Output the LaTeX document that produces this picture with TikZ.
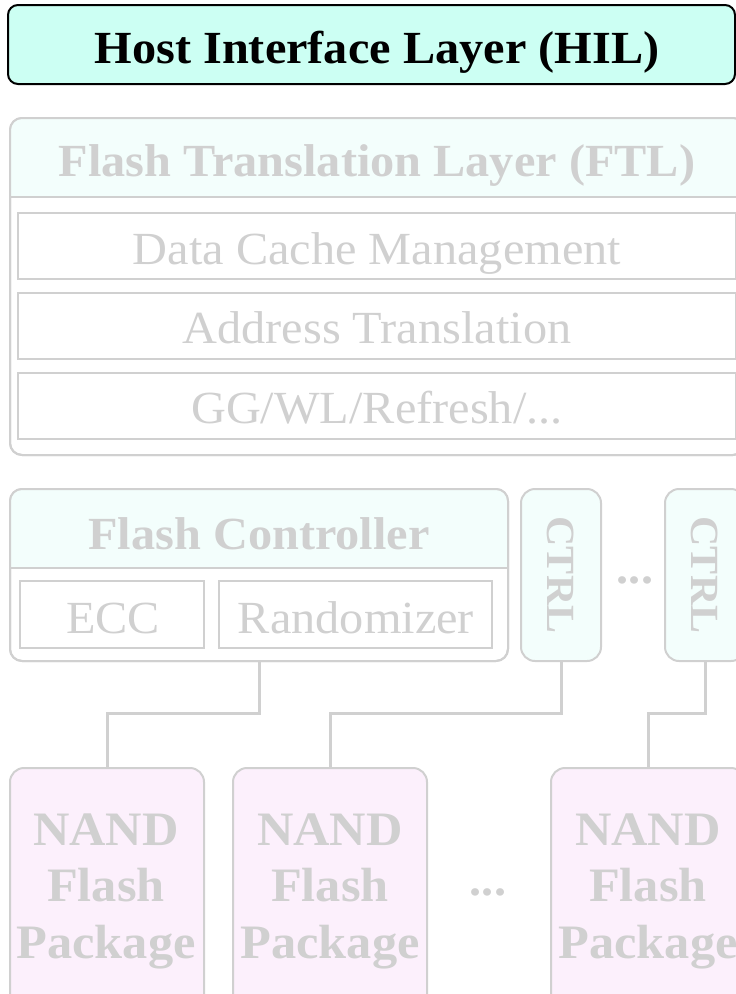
\documentclass[tikz,border=0pt]{standalone}
\usepackage{fontspec}
\setmainfont[FakeStretch=1.05]{Liberation Serif}
\begin{document}
\begin{tikzpicture}[x=1pt,y=-1pt,
  every node/.style={inner sep=0pt, outer sep=0pt},
  txt/.style={text=lgray, anchor=base},
  hilbox/.style={draw=black, line width=2pt, fill=hilfill, rounded corners=10pt},
  graybox/.style={draw=lgray, line width=2pt, rounded corners=12pt},
  plainbox/.style={draw=lgray, line width=2pt, fill=white},
  nandbox/.style={draw=lgray, line width=2pt, fill=nandfill, rounded corners=14pt},
  ctrlbox/.style={draw=lgray, line width=2pt, fill=cyanfill, rounded corners=14pt},
  wire/.style={draw=lgray, line width=3pt},
  big/.style={font=\fontsize{46}{54}\selectfont},
  bigb/.style={font=\fontsize{46}{54}\selectfont\bfseries},
  nandtxt/.style={font=\fontsize{48}{56.5}\selectfont\bfseries, align=center, text=lgray, anchor=base}
]
\definecolor{lgray}{RGB}{208,208,208}
\definecolor{hilfill}{RGB}{204,255,243}
\definecolor{cyanfill}{RGB}{243,254,252}
\definecolor{nandfill}{RGB}{252,240,252}
\useasboundingbox (0,0) rectangle (736,994);
\clip (0,0) rectangle (736,994);

% HIL
\node[hilbox, anchor=north west, minimum width=727pt, minimum height=79pt] (hil) at (8,5) {};
\node[bigb, anchor=base] (hiltxt) at (377,63) {Host Interface Layer (HIL)};

% FTL
\node[graybox, fill=white, anchor=north west, minimum width=735pt, minimum height=337pt] (ftl) at (10,118) {};
\begin{scope}
  \clip[rounded corners=12pt] (10,118) rectangle (745,455);
  \fill[cyanfill] (10,118) rectangle (745,197);
\end{scope}
\draw[lgray, line width=2pt, rounded corners=12pt] (10,118) rectangle (745,455);
\draw[lgray, line width=2pt] (10,197) -- (745,197);
\node[bigb, txt] (ftltxt) at (377,176) {Flash Translation Layer (FTL)};
\node[plainbox, anchor=north west, minimum width=718pt, minimum height=66pt] (dcm) at (18,213) {};
\node[big, txt] (dcmtxt) at (377,264) {Data Cache Management};
\node[plainbox, anchor=north west, minimum width=718pt, minimum height=66pt] (at) at (18,293) {};
\node[big, txt] (attxt) at (377,343) {Address Translation};
\node[plainbox, anchor=north west, minimum width=718pt, minimum height=66pt] (gg) at (18,373) {};
\node[big, txt] (ggtxt) at (377,423) {GG/WL/Refresh/...};

% Flash controller
\node[graybox, fill=white, anchor=north west, minimum width=498pt, minimum height=172pt] (fc) at (10,489) {};
\begin{scope}
  \clip[rounded corners=12pt] (10,489) rectangle (508,661);
  \fill[cyanfill] (10,489) rectangle (508,568);
\end{scope}
\draw[lgray, line width=2pt, rounded corners=12pt] (10,489) rectangle (508,661);
\draw[lgray, line width=2pt] (10,568) -- (508,568);
\node[bigb, txt] (fctxt) at (259,549) {Flash Controller};
\node[plainbox, anchor=north west, minimum width=184pt, minimum height=67pt] (ecc) at (20,581) {};
\node[big, txt] (ecctxt) at (113,633) {ECC};
\node[plainbox, anchor=north west, minimum width=273pt, minimum height=67pt] (rnd) at (219,581) {};
\node[big, txt] (rndtxt) at (356,633) {Randomizer};

% CTRL boxes
\node[ctrlbox, anchor=north west, minimum width=80pt, minimum height=172pt] (c1) at (521,489) {};
\node[text=lgray, rotate=-90, font=\fontsize{40}{48}\selectfont\bfseries] (c1txt) at (c1.center) {CTRL};
\node[ctrlbox, anchor=north west, minimum width=80pt, minimum height=172pt] (c2) at (665,489) {};
\node[text=lgray, rotate=-90, font=\fontsize{40}{48}\selectfont\bfseries] (c2txt) at (c2.center) {CTRL};
\node[bigb, txt] (dots1) at (635,583) {...};

% NAND packages
\node[nandbox, anchor=north west, minimum width=194pt, minimum height=260pt] (n1) at (10,768) {};
\node[nandbox, anchor=north west, minimum width=194pt, minimum height=260pt] (n2) at (233,768) {};
\node[nandbox, anchor=north west, minimum width=194pt, minimum height=260pt] (n3) at (551,768) {};
\node[nandtxt] (t1) at (106,958) {NAND\\Flash\\Package};
\node[nandtxt] (t2) at (330,958) {NAND\\Flash\\Package};
\node[nandtxt] (t3) at (648,958) {NAND\\Flash\\Package};
\node[bigb, txt] (dots2) at (488,895) {...};

% wires
\coordinate (m) at (0,713);
\draw[wire] (fc.south) |- (n1.north |- m) -- (n1.north);
\draw[wire] (c1.south) |- (n2.north |- m) -- (n2.north);
\draw[wire] (c2.south) |- (n3.north |- m) -- (n3.north);
\end{tikzpicture}
\end{document}
